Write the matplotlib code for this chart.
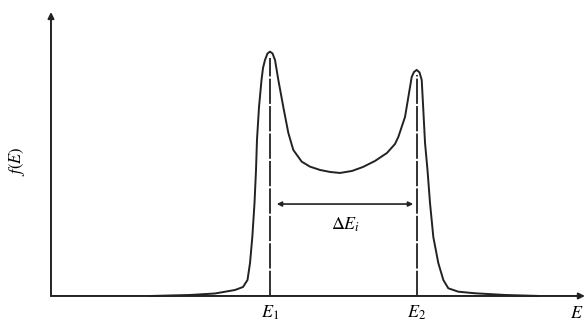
import numpy as np
import matplotlib.pyplot as plt

plt.rcParams['mathtext.fontset'] = 'stix'

# energy distribution with two peaks (E in arb. units, f in arb. units)
E = [18.50, 25.98, 30.65, 34.39, 35.89, 36.73, 37.20, 37.63, 38.04, 38.32,
     38.50, 38.88, 39.35, 39.63, 40.00, 40.47, 40.93, 41.40, 41.87, 42.49,
     43.42, 44.36, 45.29, 46.86, 48.41, 50.28, 52.15, 54.02, 56.26, 58.32,
     60.56, 62.80, 64.30, 64.92, 66.17, 66.92, 67.42, 67.85, 68.36, 68.88,
     69.29, 69.59, 69.91, 70.37, 70.84, 71.46, 72.39, 73.33, 74.26, 76.13,
     79.25, 84.86, 91.40]
f = [0.0, 0.42, 1.04, 2.5, 3.75, 6.67, 13.75, 24.58, 38.75, 52.5,
     65.0, 78.75, 90.0, 95.0, 98.33, 101.04, 101.79, 101.04, 98.33, 90.0,
     78.75, 67.92, 60.83, 55.96, 53.88, 52.5, 51.67, 51.25, 52.08, 53.75,
     56.25, 59.58, 63.33, 66.25, 74.58, 84.58, 91.25, 93.33, 94.17, 93.13,
     90.0, 77.5, 63.75, 52.5, 38.75, 24.58, 13.75, 6.67, 3.21, 1.79,
     1.13, 0.42, 0.0]

E1, E2 = 40.93, 68.36
f1, f2 = 99.0, 92.0
arrow_f = 38.3

fig = plt.figure(figsize=(5.88, 3.30), dpi=100)
ax = fig.add_axes([0, 0, 1, 1])
ax.set_xlim(-9.53, 100.37)
ax.set_ylim(-14.17, 123.3)
ax.axis('off')

axis_arrow = dict(arrowstyle='-|>', mutation_scale=9, lw=1.4, color='#222222',
                  shrinkA=0, shrinkB=0)
ax.annotate('', xy=(99.8, 0), xytext=(0, 0), arrowprops=axis_arrow)
ax.annotate('', xy=(0, 118.3), xytext=(0, 0), arrowprops=axis_arrow)

ax.plot(E, f, color='#222222', lw=1.4, solid_joinstyle='round', solid_capstyle='round')

# peak positions
ax.plot([E1, E1], [0, f1], color='#222222', lw=1.3, dashes=(14, 1.2))
ax.plot([E2, E2], [0, f2], color='#222222', lw=1.3, dashes=(14, 1.2))

ax.annotate('', xy=(42.2, arrow_f), xytext=(67.7, arrow_f),
            arrowprops=dict(arrowstyle='<|-|>', mutation_scale=7, lw=1.2,
                            color='#222222', shrinkA=0, shrinkB=0))
ax.text(55.0, 29.6, r'$\Delta E_i$', fontsize=13, ha='center', va='center')

ax.text(E1, -7.0, r'$E_1$', fontsize=13, ha='center', va='center')
ax.text(E2, -7.0, r'$E_2$', fontsize=13, ha='center', va='center')
ax.text(98.3, -7.0, r'$E$', fontsize=13, ha='center', va='center')
ax.text(-6.3, 56.0, r'$f(E)$', fontsize=12, ha='center', va='center', rotation=90)

plt.savefig('out.png', dpi=100)
